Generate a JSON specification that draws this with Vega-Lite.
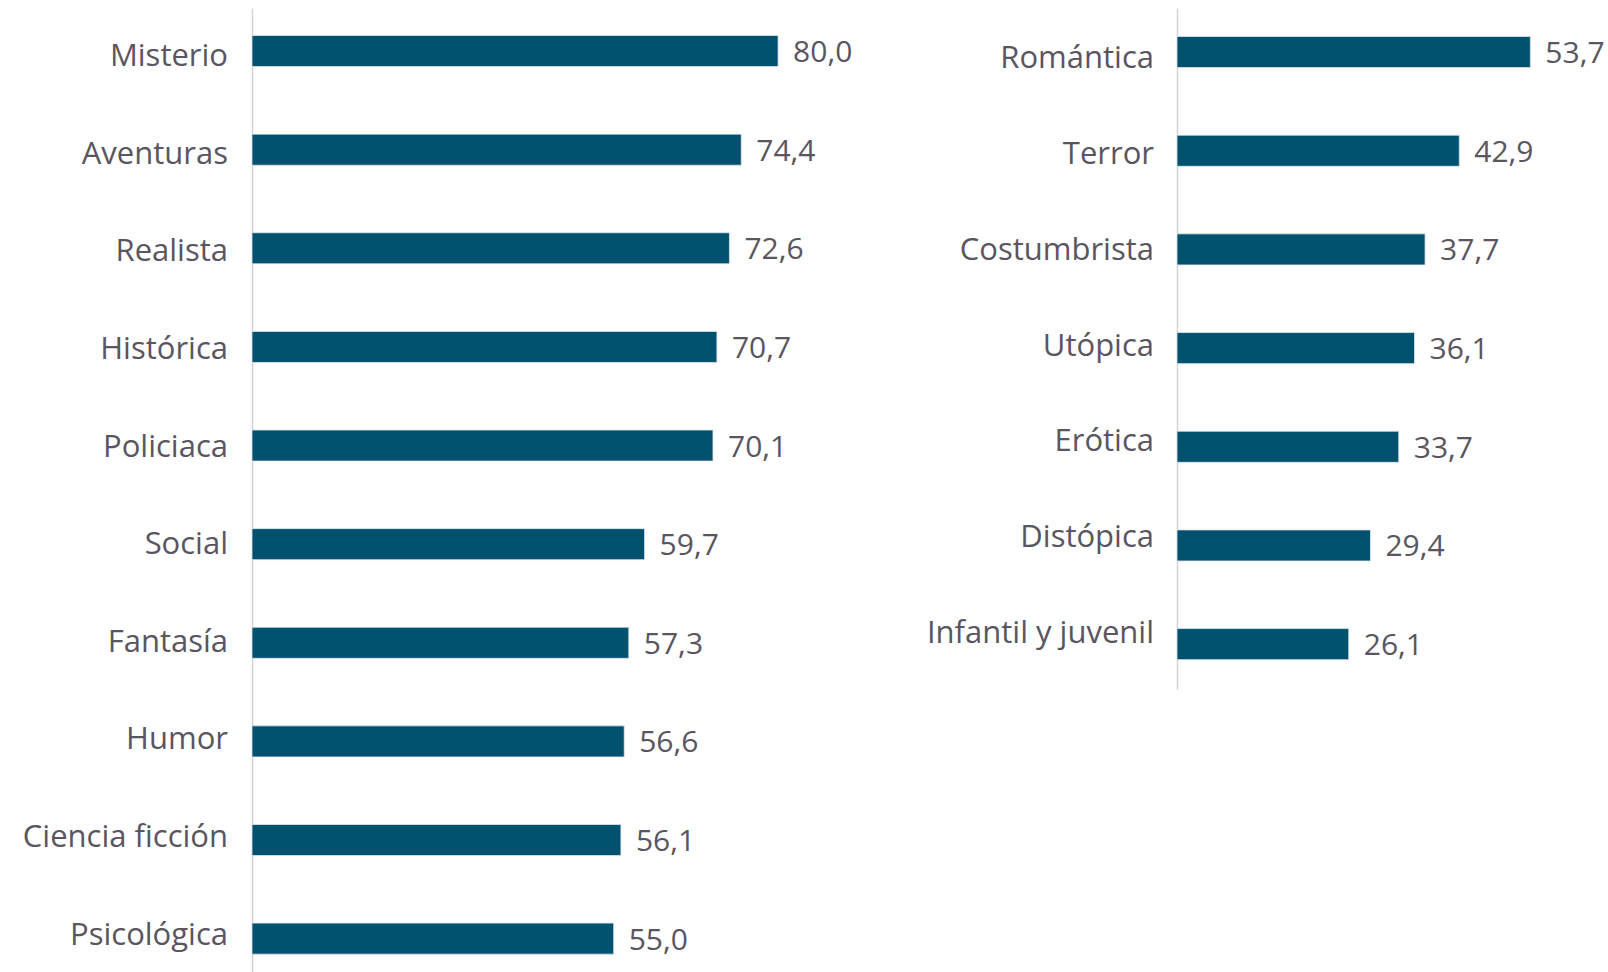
{
  "$schema": "https://vega.github.io/schema/vega-lite/v6.json",
  "padding": {"top": 8, "left": 0, "right": 0, "bottom": 0},
  "background": "white",
  "datasets": {
    "izq": [
      {"genero": "Misterio", "valor": 80.0},
      {"genero": "Aventuras", "valor": 74.4},
      {"genero": "Realista", "valor": 72.6},
      {"genero": "Histórica", "valor": 70.7},
      {"genero": "Policiaca", "valor": 70.1},
      {"genero": "Social", "valor": 59.7},
      {"genero": "Fantasía", "valor": 57.3},
      {"genero": "Humor", "valor": 56.6},
      {"genero": "Ciencia ficción", "valor": 56.1},
      {"genero": "Psicológica", "valor": 55.0}
    ],
    "der": [
      {"genero": "Romántica", "valor": 53.7},
      {"genero": "Terror", "valor": 42.9},
      {"genero": "Costumbrista", "valor": 37.7},
      {"genero": "Utópica", "valor": 36.1},
      {"genero": "Erótica", "valor": 33.7},
      {"genero": "Distópica", "valor": 29.4},
      {"genero": "Infantil y juvenil", "valor": 26.1}
    ]
  },
  "spacing": 60,
  "hconcat": [
    {
      "width": 605,
      "height": 964,
      "data": {"name": "izq"},
      "encoding": {
        "y": {
          "field": "genero", "type": "nominal", "sort": null,
          "scale": {"paddingInner": 0.685, "paddingOuter": 0.23, "align": 0.607, "round": false},
          "axis": {
            "title": null, "ticks": false, "labels": false, "minExtent": 252, "maxExtent": 252,
            "domainColor": "#d4d4d4", "domainWidth": 1.5
          }
        },
        "x": {
          "field": "valor", "type": "quantitative",
          "scale": {"domain": [0, 92.0], "nice": false, "zero": true},
          "axis": null
        }
      },
      "layer": [
        {"mark": {"type": "bar", "color": "#01516f", "stroke": "#dfe8ee", "strokeWidth": 0.8, "orient": "horizontal"}},
        {
          "mark": {"type": "text", "align": "left", "baseline": "middle", "dx": 15, "dy": 2, "fontSize": 30, "font": "Open Sans", "color": "#5a5560"},
          "encoding": {"text": {"field": "valor", "type": "quantitative", "format": ".1f"}}
        },
        {
          "mark": {
            "type": "text", "align": "right", "baseline": "middle", "dx": -24, "fontSize": 31, "font": "Open Sans", "color": "#5a5560",
            "dy": {"expr": "6 - indexof(['Misterio','Aventuras','Realista','Histórica','Policiaca','Social','Fantasía','Humor','Ciencia ficción','Psicológica'], datum.genero)"}
          },
          "encoding": {"x": {"datum": 0, "type": "quantitative"}, "text": {"field": "genero"}}
        }
      ]
    },
    {
      "width": 431,
      "height": 681,
      "data": {"name": "der"},
      "encoding": {
        "y": {
          "field": "genero", "type": "nominal", "sort": null,
          "scale": {"paddingInner": 0.685, "paddingOuter": 0.293, "align": 0.493, "round": false},
          "axis": {
            "title": null, "ticks": false, "labels": false, "minExtent": 260, "maxExtent": 260,
            "domainColor": "#d4d4d4", "domainWidth": 1.5
          }
        },
        "x": {
          "field": "valor", "type": "quantitative",
          "scale": {"domain": [0, 65.5], "nice": false, "zero": true},
          "axis": null
        }
      },
      "layer": [
        {"mark": {"type": "bar", "color": "#01516f", "stroke": "#dfe8ee", "strokeWidth": 0.8, "orient": "horizontal"}},
        {
          "mark": {"type": "text", "align": "left", "baseline": "middle", "dx": 15, "dy": 2, "fontSize": 30, "font": "Open Sans", "color": "#5a5560"},
          "encoding": {"text": {"field": "valor", "type": "quantitative", "format": ".1f"}}
        },
        {
          "mark": {
            "type": "text", "align": "right", "baseline": "middle", "dx": -23, "fontSize": 31, "font": "Open Sans", "color": "#5a5560",
            "dy": {"expr": "7 - 17*indexof(['Romántica','Terror','Costumbrista','Utópica','Erótica','Distópica','Infantil y juvenil'], datum.genero)/6"}
          },
          "encoding": {"x": {"datum": 0, "type": "quantitative"}, "text": {"field": "genero"}}
        }
      ]
    }
  ],
  "config": {
    "view": {"stroke": null},
    "locale": {
      "number": {"decimal": ",", "thousands": ".", "grouping": [3], "currency": ["", " €"]}
    }
  }
}
